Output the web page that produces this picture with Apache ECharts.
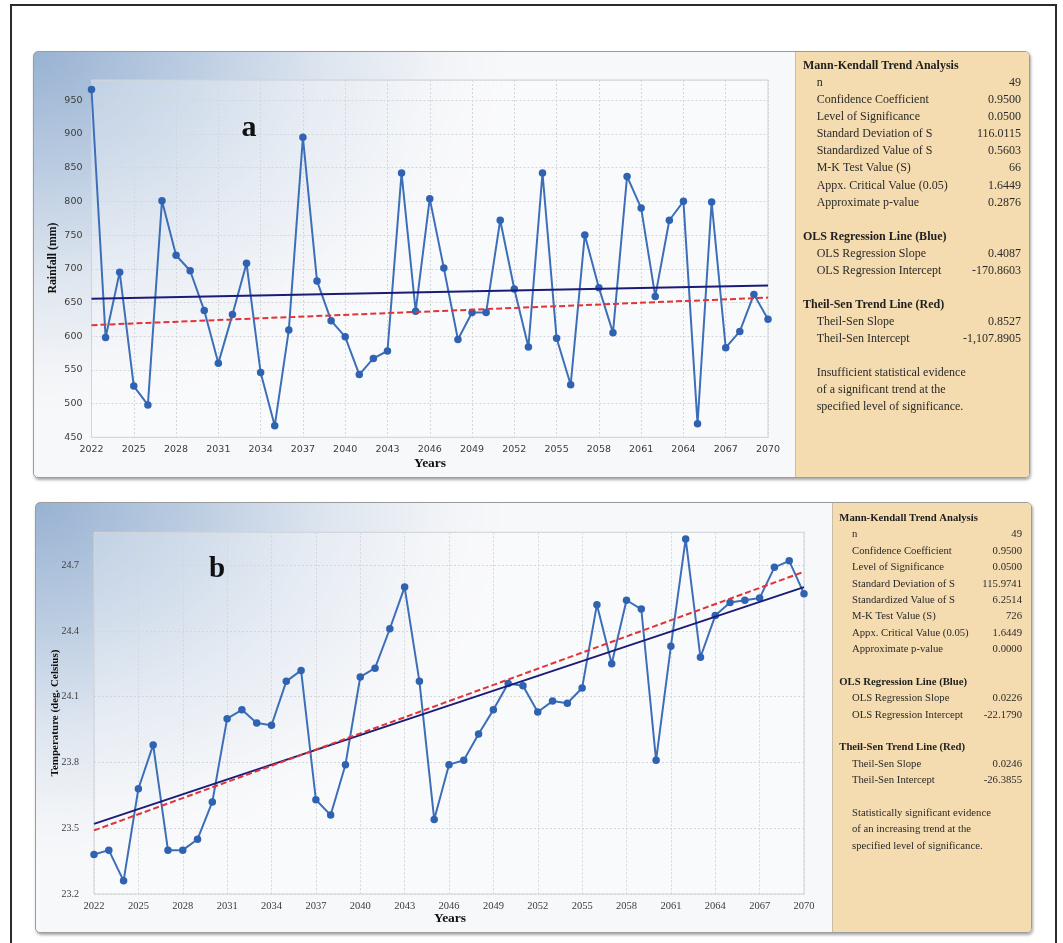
<!DOCTYPE html>
<html>
<head>
<meta charset="utf-8">
<script src="https://cdn.jsdelivr.net/npm/echarts@6/dist/echarts.min.js"></script>
<style>
  html, body { margin: 0; padding: 0; background: #fff; width: 1063px; height: 943px; overflow: hidden; }
  #frame { position: absolute; left: 10px; top: 4px; width: 1047px; height: 980px; box-sizing: border-box; border: 2px solid #2b2b2b; }
  .panel { position: absolute; box-sizing: border-box; border: 1px solid #9c9c9c; border-radius: 5px;
           box-shadow: 1px 2px 3px rgba(0,0,0,0.35); overflow: hidden;
           background: radial-gradient(ellipse 470px 360px at 0 0, #98b2d2 0%, #b8cae0 30%, #dde5ef 62%, #f2f4f7 88%, #f7f8fa 100%); }
  .tan { position: absolute; top: 0; bottom: 0; right: 0; background: #f5dcb0; border-left: 1px solid #c9bda6; }
  #chart { position: absolute; left: 0; top: 0; width: 1063px; height: 943px; }
</style>
</head>
<body>
<div id="frame"></div>
<div class="panel" style="left:33px;top:51px;width:997px;height:427px;"><div class="tan" style="left:761px;"></div></div>
<div class="panel" style="left:35px;top:502px;width:997px;height:431px;"><div class="tan" style="left:796px;"></div></div>
<div id="chart"></div>
<script>
// ---- data ----
const firstYear = 2022, lastYear = 2070;
const years = [];
for (let y = firstYear; y <= lastYear; y++) years.push(y);

const rainfall = [966, 598, 695, 526, 498, 801, 720, 697, 638, 560, 632, 708, 546, 467, 609, 895, 682,
  623, 599, 543, 567, 578, 842, 637, 804, 701, 595, 635, 635, 772, 670, 584, 842, 597, 528, 750,
  672, 605, 837, 790, 659, 772, 800, 470, 799, 583, 607, 662, 625];

const temperature = [23.38, 23.40, 23.26, 23.68, 23.88, 23.40, 23.40, 23.45, 23.62, 24.00, 24.04, 23.98,
  23.97, 24.17, 24.22, 23.63, 23.56, 23.79, 24.19, 24.23, 24.41, 24.60, 24.17, 23.54, 23.79, 23.81,
  23.93, 24.04, 24.16, 24.15, 24.03, 24.08, 24.07, 24.14, 24.52, 24.25, 24.54, 24.50, 23.81, 24.33,
  24.82, 24.28, 24.47, 24.53, 24.54, 24.55, 24.69, 24.72, 24.57];

// trend line values at the first and last year
const olsRain = [655.5, 675.2];
const theilRain = [616.3, 657.2];
const olsTemp = [23.52, 24.60];
const theilTemp = [23.49, 24.67];

// statistics tables
const mkLabels = ['n', 'Confidence Coefficient', 'Level of Significance', 'Standard Deviation of S',
  'Standardized Value of S', 'M-K Test Value (S)', 'Appx. Critical Value (0.05)', 'Approximate p-value'];
const mkRain = ['49', '0.9500', '0.0500', '116.0115', '0.5603', '66', '1.6449', '0.2876'];
const mkTemp = ['49', '0.9500', '0.0500', '115.9741', '6.2514', '726', '1.6449', '0.0000'];
const olsLabels = ['OLS Regression Slope', 'OLS Regression Intercept'];
const olsRainStats = ['0.4087', '-170.8603'];
const olsTempStats = ['0.0226', '-22.1790'];
const theilLabels = ['Theil-Sen Slope', 'Theil-Sen Intercept'];
const theilRainStats = ['0.8527', '-1,107.8905'];
const theilTempStats = ['0.0246', '-26.3855'];
const noteRain = ['Insufficient statistical evidence', 'of a significant trend at the', 'specified level of significance.'];
const noteTemp = ['Statistically significant evidence', 'of an increasing trend at the', 'specified level of significance.'];

// ---- helpers ----
const SERIF = '"Liberation Serif", "Times New Roman", serif';
const SANS = '"DejaVu Sans", Verdana, sans-serif';
const pairs = (vals) => years.map((y, i) => [y, vals[i]]);
const ends = (v) => [[firstYear, v[0]], [lastYear, v[1]]];

function statsBlock(p, mkVals, olsVals, tsVals, note) {
  const els = [];
  let line = 0;
  const yAt = (n) => p.y0 + n * p.dy;
  const head = (t) => els.push({ type: 'text', x: p.x0, y: yAt(line++), z: 50,
    style: { text: t, font: 'bold ' + p.fs + 'px ' + SERIF, fill: '#1e1e1e', align: 'left', verticalAlign: 'middle' } });
  const row = (l, v) => {
    const y = yAt(line++);
    els.push({ type: 'text', x: p.xi, y: y, z: 50,
      style: { text: l, font: p.fs + 'px ' + SERIF, fill: '#2a2a2a', align: 'left', verticalAlign: 'middle' } });
    if (v !== undefined) els.push({ type: 'text', x: p.xr, y: y, z: 50,
      style: { text: v, font: p.fs + 'px ' + SERIF, fill: '#2a2a2a', align: 'right', verticalAlign: 'middle' } });
  };
  head('Mann-Kendall Trend Analysis');
  mkLabels.forEach((l, i) => row(l, mkVals[i]));
  line++;
  head('OLS Regression Line (Blue)');
  olsLabels.forEach((l, i) => row(l, olsVals[i]));
  line++;
  head('Theil-Sen Trend Line (Red)');
  theilLabels.forEach((l, i) => row(l, tsVals[i]));
  line++;
  note.forEach((l) => row(l));
  return els;
}

function txt(t, x, y, font, rot) {
  return { type: 'text', x: x, y: y, rotation: rot || 0, z: 50,
    style: { text: t, font: font, fill: '#111', align: 'center', verticalAlign: 'middle' } };
}

const gridLine = { show: true, lineStyle: { color: '#d3d6db', type: [2, 2], width: 1 } };

function xAxisFor(gi, labelFont, fs) {
  return {
    type: 'value', gridIndex: gi, min: firstYear, max: lastYear, interval: 3,
    axisLine: { show: false }, axisTick: { show: false },
    axisLabel: { fontFamily: labelFont, fontSize: fs, color: '#3c3c3c', margin: 7, formatter: (v) => String(v) },
    splitLine: gridLine
  };
}

const chart = echarts.init(document.getElementById('chart'), null, { renderer: 'canvas' });

chart.setOption({
  backgroundColor: 'transparent',
  animation: false,
  grid: [
    { left: 91.5, top: 80, width: 676.5, height: 357.3, show: true, borderColor: '#cfd3d8', borderWidth: 1, backgroundColor: 'rgba(255,255,255,0.3)' },
    { left: 94, top: 532.3, width: 710, height: 361.7, show: true, borderColor: '#cfd3d8', borderWidth: 1, backgroundColor: 'rgba(255,255,255,0.3)' }
  ],
  xAxis: [
    xAxisFor(0, SANS, 9.5),
    xAxisFor(1, SERIF, 10.5)
  ],
  yAxis: [
    {
      type: 'value', gridIndex: 0, min: 450, max: 980, interval: 50,
      axisLine: { show: false }, axisTick: { show: false },
      axisLabel: { fontFamily: SANS, fontSize: 9.5, color: '#3c3c3c', margin: 9, showMaxLabel: false,
        formatter: (v) => String(v) },
      splitLine: gridLine
    },
    {
      type: 'value', gridIndex: 1, min: 23.2, max: 24.85, interval: 0.3,
      axisLine: { show: false }, axisTick: { show: false },
      axisLabel: { fontFamily: SERIF, fontSize: 10, color: '#3c3c3c', margin: 15, showMaxLabel: false,
        formatter: (v) => v.toFixed(1) },
      splitLine: gridLine
    }
  ],
  series: [
    { type: 'line', xAxisIndex: 0, yAxisIndex: 0, data: pairs(rainfall), symbol: 'circle', symbolSize: 7.5,
      lineStyle: { color: '#3d6fb8', width: 2 }, itemStyle: { color: '#2f63b2' }, z: 2 },
    { type: 'line', xAxisIndex: 0, yAxisIndex: 0, data: ends(olsRain), symbol: 'none',
      lineStyle: { color: '#1b1b78', width: 2 }, z: 3 },
    { type: 'line', xAxisIndex: 0, yAxisIndex: 0, data: ends(theilRain), symbol: 'none',
      lineStyle: { color: '#e0343a', width: 2, type: [6, 3] }, z: 4 },

    { type: 'line', xAxisIndex: 1, yAxisIndex: 1, data: pairs(temperature), symbol: 'circle', symbolSize: 7.5,
      lineStyle: { color: '#3d6fb8', width: 2 }, itemStyle: { color: '#2f63b2' }, z: 2 },
    { type: 'line', xAxisIndex: 1, yAxisIndex: 1, data: ends(olsTemp), symbol: 'none',
      lineStyle: { color: '#1b1b78', width: 2 }, z: 3 },
    { type: 'line', xAxisIndex: 1, yAxisIndex: 1, data: ends(theilTemp), symbol: 'none',
      lineStyle: { color: '#e0343a', width: 2, type: [6, 3] }, z: 4 }
  ],
  graphic: [].concat(
    [
      txt('a', 249, 128, 'bold 30px ' + SERIF),
      txt('b', 217, 570, 'bold 29px ' + SERIF),
      txt('Rainfall (mm)', 53, 258, 'bold 11.8px ' + SERIF, Math.PI / 2),
      txt('Temperature (deg. Celsius)', 55, 713, 'bold 11px ' + SERIF, Math.PI / 2),
      txt('Years', 430, 464, 'bold 13.5px ' + SERIF),
      txt('Years', 450, 919, 'bold 13.5px ' + SERIF)
    ],
    statsBlock({ x0: 803, xi: 816.7, xr: 1021, y0: 66, dy: 17.05, fs: 12 }, mkRain, olsRainStats, theilRainStats, noteRain),
    statsBlock({ x0: 839.3, xi: 852, xr: 1022, y0: 518.3, dy: 16.37, fs: 10.7 }, mkTemp, olsTempStats, theilTempStats, noteTemp)
  )
});
</script>
</body>
</html>
